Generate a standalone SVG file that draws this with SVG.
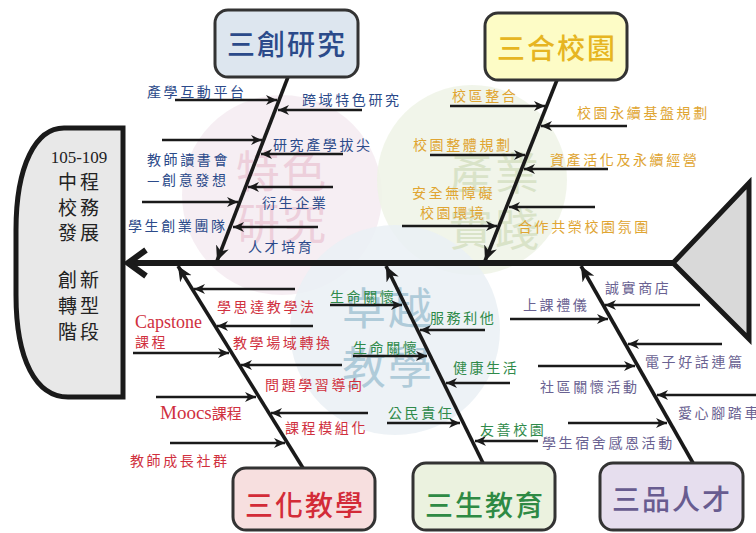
<svg xmlns="http://www.w3.org/2000/svg" width="756" height="533" viewBox="0 0 756 533">
<defs>
<style>
.rib{stroke:#1a1a1a;stroke-width:2.6;fill:none;marker-end:url(#ra)}
.bone{stroke:#1a1a1a;stroke-width:3.6;fill:none;marker-end:url(#ba)}
.box{stroke:#333;stroke-width:3;}
.t{font-family:"Noto Sans CJK TC","Noto Sans CJK SC",sans-serif;font-size:14px;letter-spacing:2.6px}
.title{font-family:"Noto Sans CJK TC","Noto Sans CJK SC",sans-serif;font-size:28px;letter-spacing:2px;text-anchor:middle;font-weight:500}
.wm{font-family:"Noto Sans CJK TC","Noto Sans CJK SC",sans-serif;font-size:44px;letter-spacing:2px;text-anchor:middle}
.head{font-family:"Noto Sans CJK TC","Noto Sans CJK SC",sans-serif;font-size:19px;letter-spacing:3px;text-anchor:middle;fill:#222}
.blue{fill:#2b4a8a}.gold{fill:#e0a532}.red{fill:#d0303e}.green{fill:#2f8a4a}.purple{fill:#6a6292}
</style>
<marker id="ra" viewBox="0 0 10 10" refX="10" refY="5" markerWidth="11" markerHeight="11" markerUnits="userSpaceOnUse" orient="auto"><path d="M0,0.5 L10,5 L0,9.5 L3,5 Z" fill="#1a1a1a"/></marker>
<marker id="ba" viewBox="0 0 10 10" refX="10" refY="5" markerWidth="15" markerHeight="15" markerUnits="userSpaceOnUse" orient="auto"><path d="M0,0.5 L10,5 L0,9.5 L3,5 Z" fill="#1a1a1a"/></marker>
</defs>
<rect width="756" height="533" fill="#ffffff"/>

<g id="watermarks">
<circle cx="282" cy="195" r="100" fill="#f5ebf1" opacity="0.85"/>
<circle cx="472" cy="180" r="95" fill="#eff3e6" opacity="0.85"/>
<circle cx="395" cy="330" r="105" fill="#eaf0f5" opacity="0.85"/>
<text class="wm" x="282" y="188" fill="#edcfdb">特色</text>
<text class="wm" x="282" y="240" fill="#edcfdb">研究</text>
<text class="wm" x="495" y="190" fill="#d9e3c8">產業</text>
<text class="wm" x="495" y="246" fill="#d9e3c8">實踐</text>
<text class="wm" x="388" y="325" fill="#afcbd9" font-size="50">卓越</text>
<text class="wm" x="388" y="384" fill="#afcbd9" font-size="50">教學</text>
</g>

<g id="head">
<path d="M123,128 H64 C36,128 16,165 16,230 V295 C16,360 36,397 68,397 H123 Z" fill="#e8e8e8" stroke="#1a1a1a" stroke-width="5"/>
<text x="79" y="163" font-family="Liberation Serif,serif" font-size="17" text-anchor="middle" fill="#222">105-109</text>
<text class="head" x="80" y="189">中程</text>
<text class="head" x="80" y="215">校務</text>
<text class="head" x="80" y="240">發展</text>
<text class="head" x="80" y="287">創新</text>
<text class="head" x="80" y="313">轉型</text>
<text class="head" x="80" y="339">階段</text>
</g>

<g id="tail">
<path d="M673,263 L749,183 V339 Z" fill="#d9d9d9" stroke="#1a1a1a" stroke-width="5" stroke-linejoin="miter"/>
</g>

<g id="connectors">
<line x1="673" y1="263" x2="129" y2="263" stroke="#1a1a1a" stroke-width="6"/>
<path d="M146,250 L128,263 L146,276" fill="none" stroke="#1a1a1a" stroke-width="6"/>
<line class="bone" x1="288" y1="77" x2="217" y2="261"/>
<line class="bone" x1="557" y1="80" x2="485" y2="261"/>
<line class="bone" x1="303" y1="468" x2="178" y2="266"/>
<line class="bone" x1="483" y1="463" x2="386" y2="266"/>
<line class="bone" x1="693" y1="463" x2="581" y2="266"/>
<line class="rib" x1="175" y1="100" x2="277" y2="100"/>
<line class="rib" x1="162" y1="140" x2="262" y2="140"/>
<line class="rib" x1="142" y1="202" x2="238" y2="202"/>
<line class="rib" x1="362" y1="110" x2="278" y2="110"/>
<line class="rib" x1="343" y1="154" x2="261" y2="154"/>
<line class="rib" x1="333" y1="187" x2="248" y2="187"/>
<line class="rib" x1="318" y1="227" x2="233" y2="227"/>
<line class="rib" x1="450" y1="106" x2="545" y2="106"/>
<line class="rib" x1="430" y1="155" x2="525" y2="155"/>
<line class="rib" x1="402" y1="226" x2="497" y2="226"/>
<line class="rib" x1="627" y1="126" x2="541" y2="126"/>
<line class="rib" x1="608" y1="169" x2="524" y2="169"/>
<line class="rib" x1="595" y1="207" x2="509" y2="207"/>
<line class="rib" x1="295" y1="289" x2="194" y2="289"/>
<line class="rib" x1="313" y1="326" x2="217" y2="326"/>
<line class="rib" x1="342" y1="365" x2="241" y2="365"/>
<line class="rib" x1="368" y1="413" x2="271" y2="413"/>
<line class="rib" x1="133" y1="353" x2="229" y2="353"/>
<line class="rib" x1="156" y1="397" x2="256" y2="397"/>
<line class="rib" x1="170" y1="443" x2="285" y2="443"/>
<line class="rib" x1="330" y1="305" x2="402" y2="305"/>
<line class="rib" x1="353" y1="356" x2="427" y2="356"/>
<line class="rib" x1="387" y1="423" x2="460" y2="423"/>
<line class="rib" x1="485" y1="330" x2="420" y2="330"/>
<line class="rib" x1="510" y1="383" x2="446" y2="383"/>
<line class="rib" x1="538" y1="441" x2="475" y2="441"/>
<line class="rib" x1="510" y1="319" x2="608" y2="319"/>
<line class="rib" x1="538" y1="366" x2="635" y2="366"/>
<line class="rib" x1="568" y1="423" x2="667" y2="423"/>
<line class="rib" x1="700" y1="305" x2="605" y2="305"/>
<line class="rib" x1="722" y1="344" x2="628" y2="344"/>
<line class="rib" x1="756" y1="395" x2="657" y2="395"/>
</g>

<g id="labels">
<text class="t blue" x="147" y="97">產學互動平台</text>
<text class="t blue" x="302" y="105">跨域特色研究</text>
<text class="t blue" x="147" y="165">教師讀書會</text>
<text class="t blue" x="147" y="185">—創意發想</text>
<text class="t blue" x="273" y="150">研究產學拔尖</text>
<text class="t blue" x="128" y="231">學生創業團隊</text>
<text class="t blue" x="262" y="208">衍生企業</text>
<text class="t blue" x="248" y="252">人才培育</text>

<text class="t gold" x="452" y="101">校區整合</text>
<text class="t gold" x="577" y="118">校園永續基盤規劃</text>
<text class="t gold" x="413" y="150">校園整體規劃</text>
<text class="t gold" x="550" y="165">資產活化及永續經營</text>
<text class="t gold" x="412" y="198">安全無障礙</text>
<text class="t gold" x="420" y="218">校園環境</text>
<text class="t gold" x="518" y="232">合作共榮校園氛圍</text>

<text class="t red" x="217" y="312">學思達教學法</text>
<text class="red" x="135" y="328" font-family="Liberation Serif,serif" font-size="18">Capstone</text>
<text class="t red" x="135" y="347">課程</text>
<text class="t red" x="233" y="348">教學場域轉換</text>
<text class="t red" x="265" y="390">問題學習導向</text>
<text class="red" x="160" y="419" font-family="Liberation Serif,serif" font-size="19">Moocs<tspan font-family="Noto Sans CJK TC,sans-serif" font-size="15">課程</tspan></text>
<text class="t red" x="285" y="433">課程模組化</text>
<text class="t red" x="130" y="466">教師成長社群</text>

<text class="t green" x="330" y="302">生命關懷</text>
<text class="t green" x="430" y="323">服務利他</text>
<text class="t green" x="353" y="353">生命關懷</text>
<text class="t green" x="453" y="373">健康生活</text>
<text class="t green" x="388" y="418">公民責任</text>
<text class="t green" x="480" y="435">友善校園</text>

<text class="t purple" x="605" y="293">誠實商店</text>
<text class="t purple" x="523" y="310">上課禮儀</text>
<text class="t purple" x="645" y="367">電子好話連篇</text>
<text class="t purple" x="540" y="392">社區關懷活動</text>
<text class="t purple" x="678" y="418">愛心腳踏車</text>
<text class="t purple" x="542" y="448">學生宿舍感恩活動</text>
</g>

<g id="box-sanchuang">
<rect class="box" x="215" y="10" width="143" height="67" rx="13" fill="#dde6ef"/>
<text class="title" x="287" y="55" fill="#2b4a8a">三創研究</text>
</g>
<g id="box-sanhe">
<rect class="box" x="485" y="13" width="142" height="67" rx="13" fill="#fdfcc6"/>
<text class="title" x="557" y="59" fill="#e6b521">三合校園</text>
</g>
<g id="box-sanhua">
<rect class="box" x="233" y="468" width="142" height="62" rx="13" fill="#f7dfdf"/>
<text class="title" x="305" y="516" fill="#d32b38">三化教學</text>
</g>
<g id="box-sansheng">
<rect class="box" x="413" y="463" width="142" height="67" rx="13" fill="#ebf2df"/>
<text class="title" x="485" y="516" fill="#2e8a44">三生教育</text>
</g>
<g id="box-sanpin">
<rect class="box" x="600" y="463" width="143" height="67" rx="13" fill="#e6deee"/>
<text class="title" x="672" y="510" fill="#685c90">三品人才</text>
</g>
</svg>
